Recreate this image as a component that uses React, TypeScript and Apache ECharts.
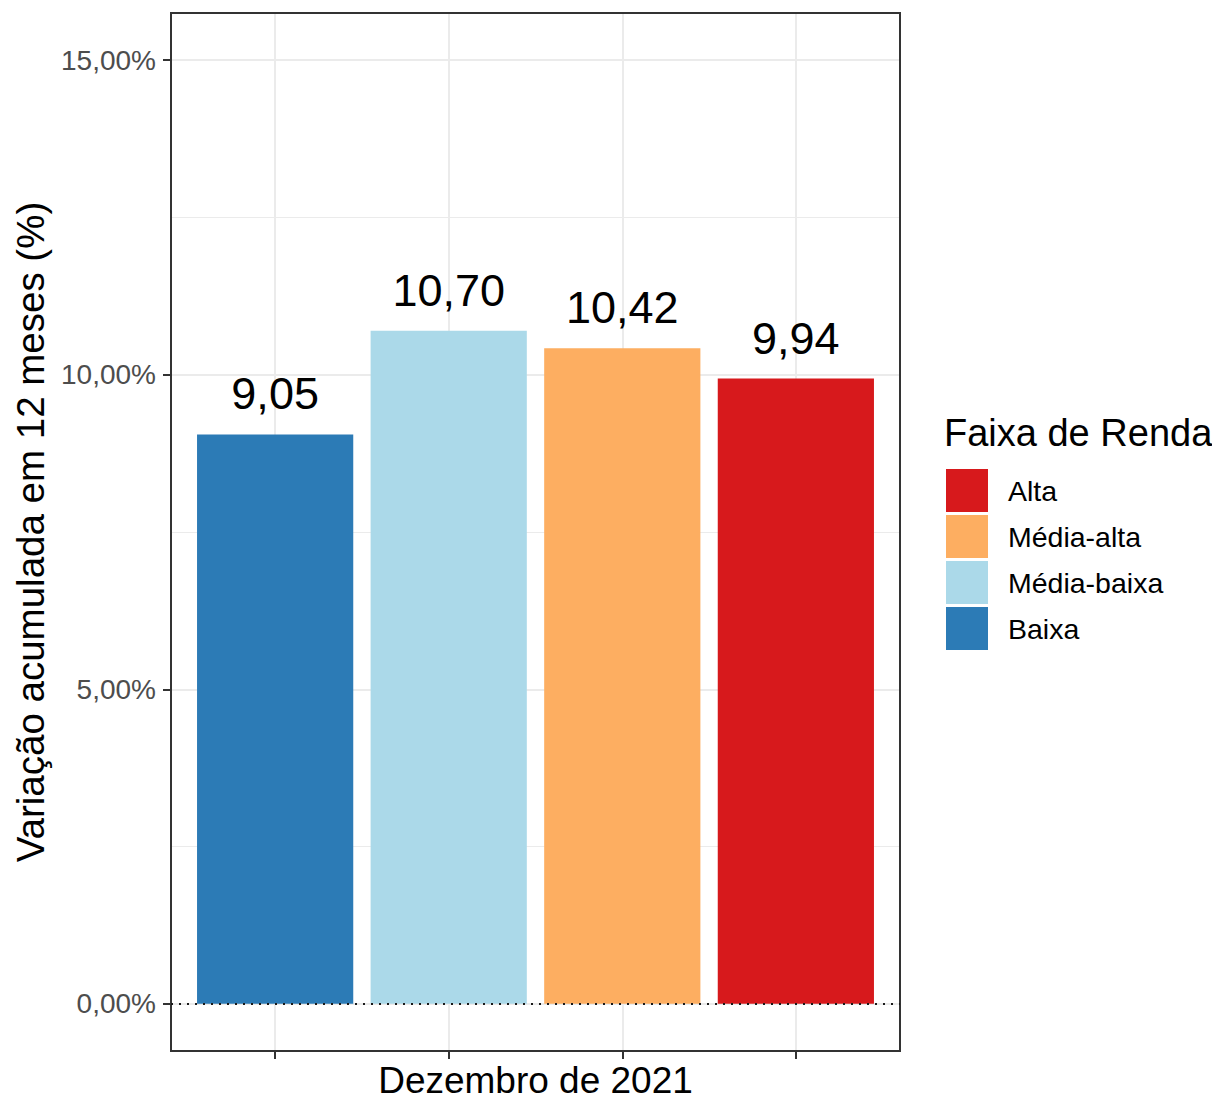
import React, { useEffect, useRef } from "react";
import * as echarts from "echarts";

const categories = ["Baixa", "Média-baixa", "Média-alta", "Alta"];
const values = [9.05, 10.7, 10.42, 9.94];
const barColors = ["#2C7BB6", "#ABD9E9", "#FDAE61", "#D7191C"];
const xTicks = [1, 2, 3, 4];
const yTicks = [0, 5, 10, 15];
const yMinorTicks = [2.5, 7.5, 12.5];
const legendOrder = ["Alta", "Média-alta", "Média-baixa", "Baixa"];
const xAxisTitle = "Dezembro de 2021";
const yAxisTitle = "Variação acumulada em 12 meses (%)";
const legendTitle = "Faixa de Renda";

const FONT = "'Liberation Sans', Arial, Helvetica, sans-serif";
const PLOT_LEFT = 171;
const PLOT_TOP = 13;
const PLOT_W = 729;
const PLOT_H = 1038;
const X_MIN = 0.4;
const X_MAX = 4.6;
const Y_MIN = -0.75;
const Y_MAX = 15.75;
const BAR_WIDTH_UNITS = 0.9;

const fmt = (v: number) => v.toFixed(2).replace(".", ",");

export default function App() {
  const ref = useRef<HTMLDivElement>(null);

  useEffect(() => {
    if (!ref.current) return;
    const chart = echarts.init(ref.current, undefined, { renderer: "svg" });
    const barWidthPx = (BAR_WIDTH_UNITS * PLOT_W) / (X_MAX - X_MIN);

    const barSeries = categories.map((name, i) => ({
      type: "bar",
      name,
      data: [[xTicks[i], values[i]]],
      barWidth: barWidthPx,
      barGap: "-100%",
      z: 2,
      itemStyle: { color: barColors[i] },
      label: {
        show: true,
        position: "top",
        distance: 18,
        fontSize: 45,
        color: "#000",
        fontFamily: FONT,
        formatter: (p: any) => fmt(p.value[1]),
      },
    }));

    const option: any = {
      animation: false,
      backgroundColor: "#fff",
      textStyle: { fontFamily: FONT },
      grid: {
        left: PLOT_LEFT,
        top: PLOT_TOP,
        width: PLOT_W,
        height: PLOT_H,
        outerBoundsMode: "none",
        containLabel: false,
        show: true,
        borderColor: "#333333",
        borderWidth: 2,
        backgroundColor: "transparent",
        z: 3,
      },
      title: {
        text: legendTitle,
        left: 939,
        top: 409,
        textStyle: {
          fontSize: 38,
          fontWeight: "normal",
          color: "#000",
          fontFamily: FONT,
        },
      },
      legend: {
        data: legendOrder,
        orient: "vertical",
        left: 946,
        top: 469,
        padding: 0,
        itemWidth: 42,
        itemHeight: 43,
        itemGap: 3,
        icon: "rect",
        selectedMode: false,
        textStyle: {
          fontSize: 28.5,
          color: "#000",
          fontFamily: FONT,
          padding: [0, 0, 0, 15],
        },
      },
      xAxis: {
        type: "value",
        min: X_MIN,
        max: X_MAX,
        name: xAxisTitle,
        nameLocation: "middle",
        nameGap: 14,
        nameTextStyle: {
          fontSize: 37,
          lineHeight: 30,
          color: "#000",
          fontFamily: FONT,
        },
        axisLine: { show: false, onZero: false },
        axisTick: {
          show: true,
          customValues: xTicks,
          length: 8,
          lineStyle: { color: "#333333", width: 2 },
        },
        axisLabel: { show: false, customValues: xTicks },
        splitLine: { show: true, lineStyle: { color: "#EBEBEB", width: 2 } },
      },
      yAxis: {
        type: "value",
        min: Y_MIN,
        max: Y_MAX,
        name: yAxisTitle,
        nameLocation: "middle",
        nameGap: 116,
        nameRotate: 90,
        nameTextStyle: { fontSize: 38.5, color: "#000", fontFamily: FONT },
        axisLine: { show: false, onZero: false },
        axisTick: {
          show: true,
          customValues: yTicks,
          length: 8,
          lineStyle: { color: "#333333", width: 2 },
        },
        axisLabel: {
          show: true,
          customValues: yTicks,
          margin: 15,
          fontSize: 28,
          color: "#4D4D4D",
          fontFamily: FONT,
          formatter: (v: number) => fmt(v) + "%",
        },
        splitLine: { show: true, lineStyle: { color: "#EBEBEB", width: 2 } },
      },
      series: [
        {
          type: "line",
          name: "_minorGrid",
          data: [],
          z: 1,
          silent: true,
          markLine: {
            silent: true,
            symbol: ["none", "none"],
            z: 1,
            label: { show: false },
            lineStyle: { color: "#EBEBEB", width: 1, type: "solid" },
            data: yMinorTicks.map((v) => ({ yAxis: v })),
          },
        },
        ...barSeries,
        {
          type: "line",
          name: "_zeroLine",
          data: [],
          z: 5,
          silent: true,
          markLine: {
            silent: true,
            symbol: ["none", "none"],
            z: 5,
            label: { show: false },
            lineStyle: { color: "#1a1a1a", width: 2, type: [2, 6] },
            data: [{ yAxis: 0 }],
          },
        },
      ],
    };

    chart.setOption(option);
    return () => chart.dispose();
  }, []);

  return (
    <div
      ref={ref}
      style={{ position: "absolute", left: 0, top: 0, width: 1212, height: 1100 }}
    />
  );
}
